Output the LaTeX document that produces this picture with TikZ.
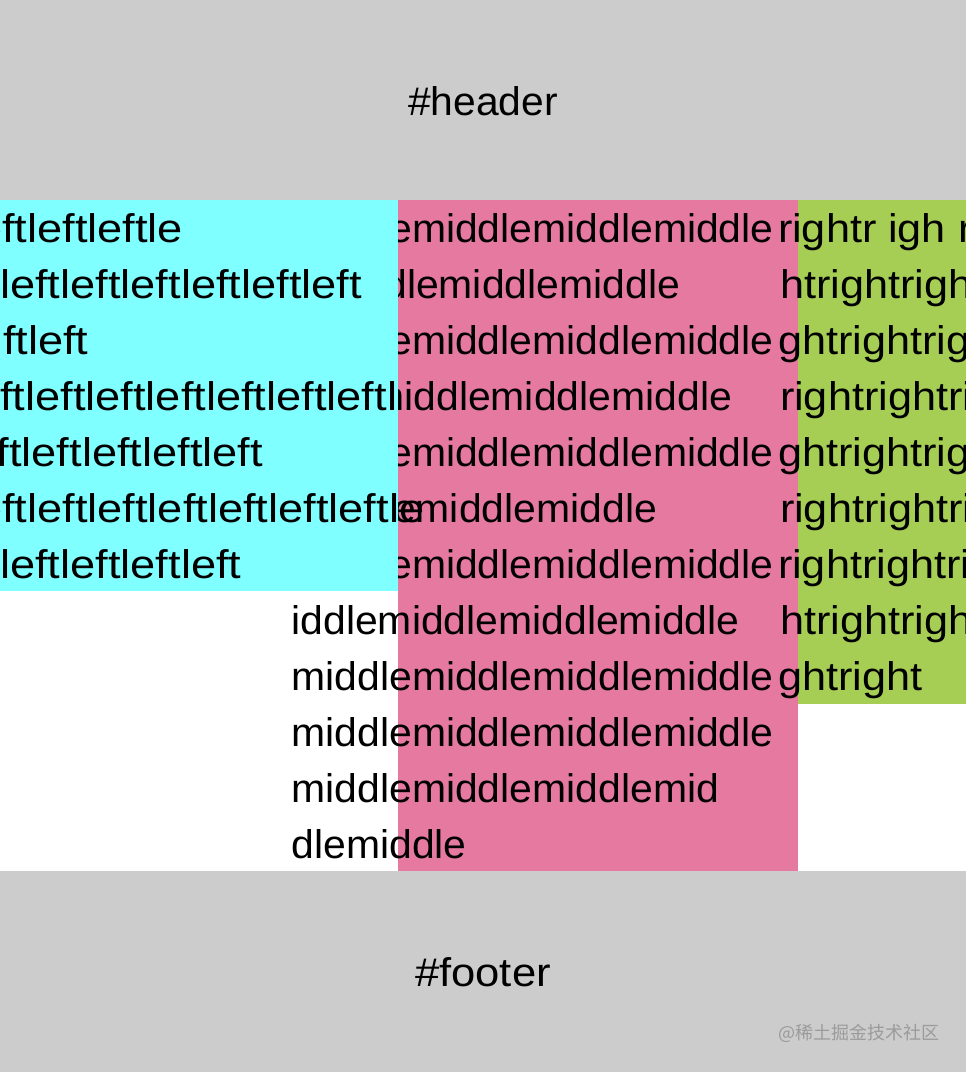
\documentclass[tikz,border=0pt]{standalone}
\usepackage{fontspec}
\usepackage{graphicx}
\setmainfont{Liberation Sans}
\newfontfamily\cjkfont{Noto Sans CJK SC}
\definecolor{hdrgray}{RGB}{204,204,204}
\definecolor{cyanbox}{RGB}{127,255,255}
\definecolor{pinkbox}{RGB}{230,121,160}
\definecolor{greenbox}{RGB}{166,206,84}
\definecolor{wmgray}{RGB}{155,155,155}
\newcommand{\LT}[1]{\scalebox{1.13}[1]{#1}}
\newcommand{\MT}[1]{\scalebox{1.023}[1]{#1}}
\newcommand{\RT}[1]{\scalebox{1.08}[1]{#1}}
\begin{document}
\begin{tikzpicture}[x=1pt,y=-1pt,
  txt/.style={inner sep=0pt, outer sep=0pt, anchor=base west, font=\fontsize{40}{48}\selectfont},
  txte/.style={txt, anchor=base east}]
\useasboundingbox (0,0) rectangle (966,1072);
\begin{scope}
\clip (0,0) rectangle (966,1072);
% backgrounds
\fill[white] (0,0) rectangle (966,1072);
\fill[hdrgray] (0,0) rectangle (966,200);
\fill[hdrgray] (0,871) rectangle (966,1072);
\fill[pinkbox] (398,200) rectangle (798,871);
\fill[greenbox] (798,200) rectangle (966,704);
% middle text
\node[txt]  (m1)  at (291.5,242) {\MT{middlemiddlemiddlemiddle}};
\node[txte] (m2)  at (680,298)   {\MT{midddlemiddlemiddle}};
\node[txt]  (m3)  at (291.5,354) {\MT{middlemiddlemiddlemiddle}};
\node[txte] (m4)  at (732,410)   {\MT{middlemiddlemiddlemiddle}};
\node[txt]  (m5)  at (291.5,466) {\MT{middlemiddlemiddlemiddle}};
\node[txte] (m6)  at (657,522)   {\MT{middlemiddlemiddle}};
\node[txt]  (m7)  at (291.5,578) {\MT{middlemiddlemiddlemiddle}};
% cyan box over hidden part
\fill[cyanbox] (0,200) rectangle (398,591);
\node[txt]  (m8)  at (291.5,634) {\MT{iddlemiddlemiddlemiddle}};
\node[txt]  (m9)  at (291.5,690) {\MT{middlemiddlemiddlemiddle}};
\node[txt]  (m10) at (291.5,746) {\MT{middlemiddlemiddlemiddle}};
\node[txt]  (m11) at (291.5,802) {\MT{middlemiddlemiddlemid}};
\node[txt]  (m12) at (291.5,858) {\MT{dlemiddle}};
% left text
\node[txt] (l1) at (-33,242) {\LT{leftleftleftle}};
\node[txt] (l2) at (-25,298) {\LT{ftleftleftleftleftleftleft}};
\node[txt] (l3) at (3,354) {\LT{ftleft}};
\node[txt] (l4) at (-35,410) {\LT{leftleftleftleftleftleftleftl}};
\node[txt] (l5) at (-28.5,466) {\LT{eftleftleftleftleft}};
\node[txt] (l6) at (-33,522) {\LT{leftleftleftleftleftleftleftle}};
\node[txt] (l7) at (-25,578) {\LT{ftleftleftleftleft}};
% right text
\node[txt] (r1) at (778,242) {\RT{rightr igh right}};
\node[txt] (r2) at (780,298) {\RT{htrightrightright}};
\node[txt] (r3) at (778,354) {\RT{ghtrightrightright}};
\node[txt] (r4) at (780,410) {\RT{rightrightright}};
\node[txt] (r5) at (778,466) {\RT{ghtrightrightright}};
\node[txt] (r6) at (780,522) {\RT{rightrightright}};
\node[txt] (r7) at (778,578) {\RT{rightrightright}};
\node[txt] (r8) at (780,634) {\RT{htrightrightright}};
\node[txt] (r9) at (778,690) {\RT{ghtright}};
\end{scope}
% header / footer
\node[txt, anchor=base] (header) at (483,115) {\scalebox{1.02}[1]{\#header}};
\node[txt, anchor=base] (footer) at (483,986) {\scalebox{1.09}[1]{\#footer}};
\node[inner sep=0pt, text=wmgray, font=\cjkfont\fontsize{18}{20}\selectfont] (wm) at (859,1033) {@稀土掘金技术社区};
\end{tikzpicture}
\end{document}
